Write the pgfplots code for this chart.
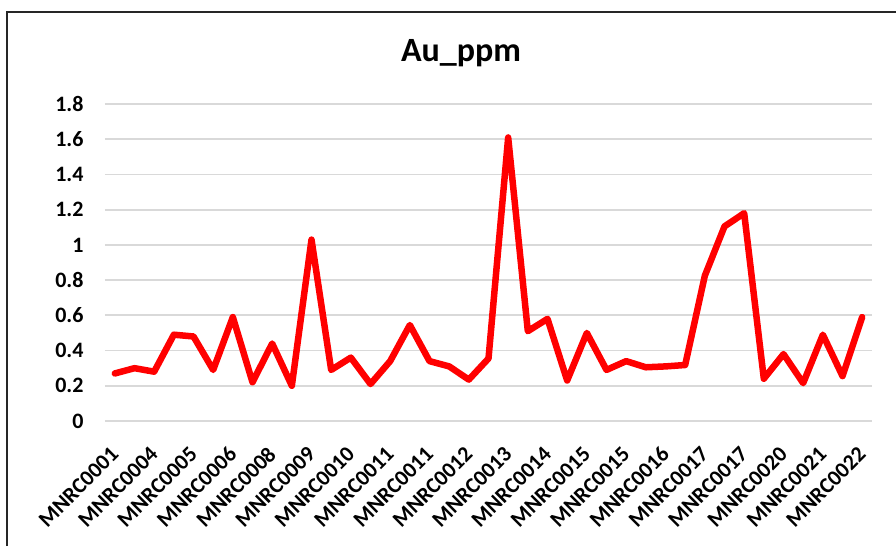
\documentclass[border=0pt]{standalone}
\usepackage{fontspec}
\setmainfont{Carlito}
\usepackage{pgfplots}
\pgfplotsset{compat=1.18}
\usepackage{pgfplotstable}
\pgfplotstableread{
idx val
0 0.27
1 0.30
2 0.28
3 0.49
4 0.48
5 0.29
6 0.59
7 0.22
8 0.44
9 0.20
10 1.03
11 0.29
12 0.36
13 0.21
14 0.34
15 0.545
16 0.34
17 0.31
18 0.235
19 0.355
20 1.61
21 0.51
22 0.58
23 0.23
24 0.50
25 0.29
26 0.34
27 0.305
28 0.31
29 0.318
30 0.825
31 1.105
32 1.18
33 0.24
34 0.38
35 0.215
36 0.49
37 0.255
38 0.59
}\audata
\begin{document}
\begin{tikzpicture}
\useasboundingbox (-105pt,-125pt) rectangle (791pt,421pt);
\fill[white] (-105pt,-125pt) rectangle (791pt,421pt);
\draw[line width=1.6pt, black!85] (-98pt,-125pt) -- (-98pt,409pt) -- (791pt,409pt);
\begin{axis}[
  at={(0pt,0pt)}, anchor=south west,
  width=767pt, height=317pt, scale only axis,
  xmin=-0.5, xmax=38.5, ymin=0, ymax=1.8,
  axis line style={draw=none},
  major tick length=0pt,
  ytick={0,0.2,...,1.8},
  ymajorgrids,
  grid style={line width=1.8pt, color=black!15},
  xtick={0,2,...,38},
  xticklabels={MNRC0001,MNRC0004,MNRC0005,MNRC0006,MNRC0008,MNRC0009,MNRC0010,MNRC0011,MNRC0011,MNRC0012,MNRC0013,MNRC0014,MNRC0015,MNRC0015,MNRC0016,MNRC0017,MNRC0017,MNRC0020,MNRC0021,MNRC0022},
  /pgf/number format/assume math mode=true,
  /pgf/number format/fixed,
  /pgf/number format/precision=1,
  yticklabel style={font=\fontsize{22}{24}\selectfont\bfseries, anchor=east, xshift=-18pt},
  xticklabel style={font=\fontsize{22}{24}\selectfont\bfseries, rotate=45, anchor=east, inner sep=0pt, xshift=-21pt, yshift=-21pt},
]
\addplot[color=red, line width=6.5pt, line join=round, line cap=round] table[x=idx, y=val] {\audata};
\end{axis}
\node[font=\fontsize{34}{38}\selectfont\bfseries] at (356pt,368pt) {Au\_ppm};
\end{tikzpicture}
\end{document}
